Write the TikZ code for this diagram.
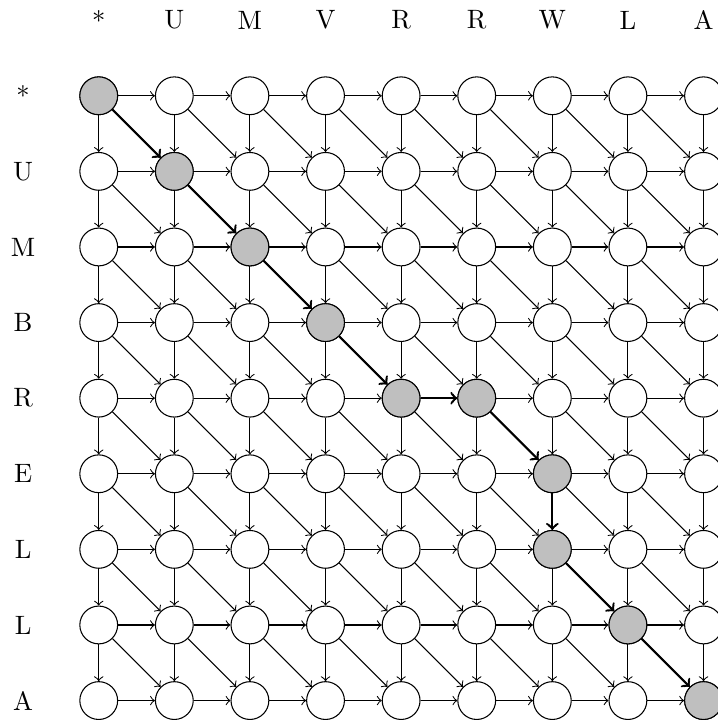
\documentclass[tikz,border=0pt]{standalone}
\begin{document}
\begin{tikzpicture}[x=1cm,y=1cm,
  st/.style={circle,draw,minimum size=0.5cm,inner sep=0pt,fill=white},
  hl/.style={fill=lightgray},
  ed/.style={->},
  pe/.style={->,thick},
  lab/.style={inner sep=0pt}]
\useasboundingbox (-1.306,1.267) rectangle (8.179,-8.257);
% headers
\foreach \t [count=\i from 0] in {*,U,M,V,R,R,W,L,A}
  \node[lab] (h\i) at (\i,1) {\t};
\foreach \t [count=\j from 0] in {*,U,M,B,R,E,L,L,A}
  \node[lab] (r\j) at (-1,-\j) {\t};
% nodes
\foreach \i in {0,...,8}
  \foreach \j in {0,...,8}
    \node[st] (n-\i-\j) at (\i,-\j) {};
\foreach \i/\j in {0/0,1/1,2/2,3/3,4/4,5/4,6/5,6/6,7/7,8/8}
  \node[st,hl] at (n-\i-\j) {};
% edges
\foreach \i in {0,...,8}
  \foreach \j in {0,...,8}{
    \pgfmathtruncatemacro{\ni}{\i+1}
    \pgfmathtruncatemacro{\nj}{\j+1}
    \ifnum\i<8 \draw[ed] (n-\i-\j) -- (n-\ni-\j); \fi
    \ifnum\j<8 \draw[ed] (n-\i-\j) -- (n-\i-\nj); \fi
    \ifnum\i<8 \ifnum\j<8 \draw[ed] (n-\i-\j) -- (n-\ni-\nj); \fi\fi
  }
% alignment path
\foreach \a/\b in {0-0/1-1,1-1/2-2,2-2/3-3,3-3/4-4,4-4/5-4,5-4/6-5,6-5/6-6,6-6/7-7,7-7/8-8}
  \draw[pe] (n-\a) -- (n-\b);
\end{tikzpicture}
\end{document}
